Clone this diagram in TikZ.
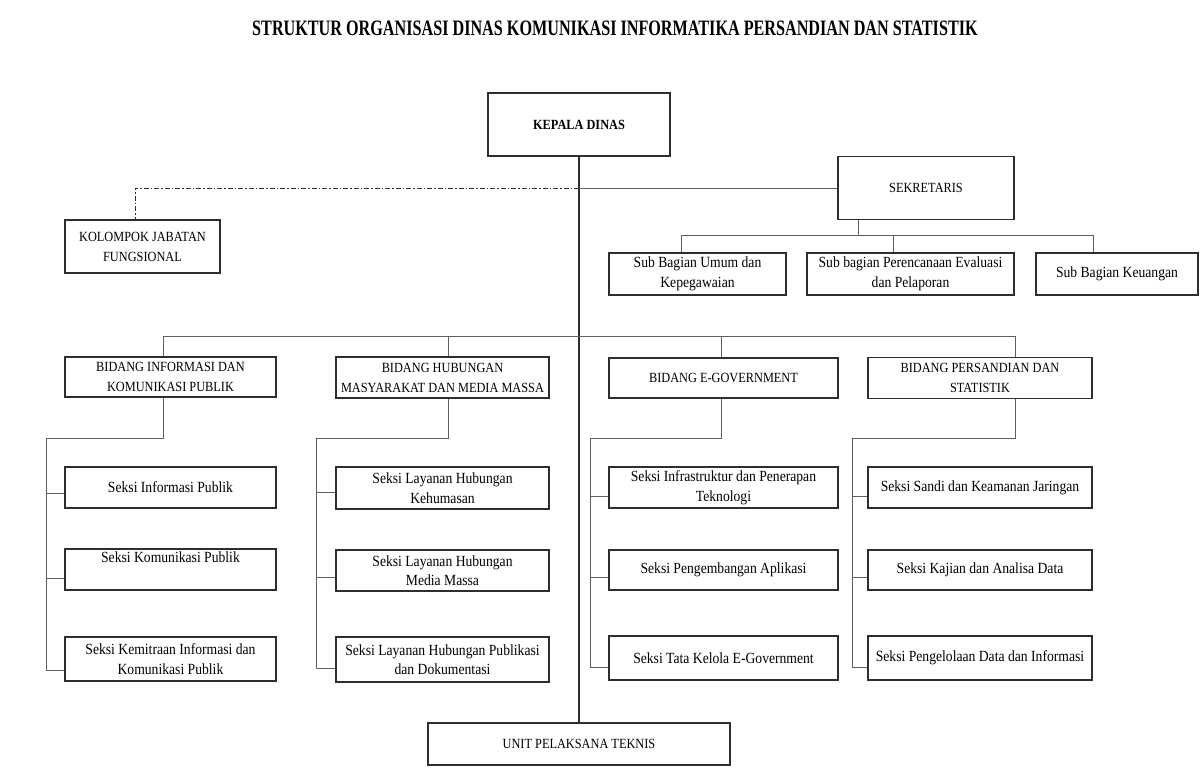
\documentclass[tikz,border=0pt]{standalone}
\usepackage{fontspec}
\setmainfont{Liberation Serif}[FakeStretch=0.88]
\newfontfamily\titlefont{Liberation Serif}[FakeStretch=0.735]
\definecolor{boxgray}{HTML}{2E2E2E}
\definecolor{linegray}{HTML}{606060}
\tikzset{dim/.style 2 args={minimum width=#1, minimum height=#2}}

\begin{document}
\begin{tikzpicture}[
            x = 1pt, y = -1pt, % pixel grid of the scan
            line join = miter,
            semithick
        ]

        \tikzstyle{unit}=[
            draw = boxgray,
            line width = 1.4pt,
            fill = white,
            inner sep = 0pt,
            align = center,
            font = \fontsize{15.5}{19.5}\selectfont
        ]
        \tikzstyle{caps}=[unit, font = \fontsize{14}{20}\selectfont]
        \tikzstyle{conn}=[draw = linegray, line width = 0.9pt]

        \useasboundingbox (0,0) rectangle (1201,776);

        \node (title) at (615,28) {\titlefont\bfseries\fontsize{22}{26}\selectfont STRUKTUR ORGANISASI DINAS KOMUNIKASI INFORMATIKA PERSANDIAN DAN STATISTIK};

        % top level
        \node[unit, dim={182pt}{63pt}, line width = 2pt, font = \bfseries\fontsize{14}{17}\selectfont] (kepala) at (579,124.5) {KEPALA DINAS};
        \node[caps, dim={176pt}{63pt}] (sekretaris) at (926,188) {SEKRETARIS};
        \node[caps, dim={155pt}{53pt}] (fungsional) at (142.5,246.5) {KOLOMPOK JABATAN\\FUNGSIONAL};
        \node[caps, dim={302pt}{42pt}] (upt) at (579,744) {UNIT PELAKSANA TEKNIS};

        % sub bagian
        \node[unit, dim={177pt}{42pt}] (umum) at (697.5,274) {Sub Bagian Umum dan\\Kepegawaian};
        \node[unit, dim={207pt}{42pt}] (rencana) at (910.5,274) {Sub bagian Perencanaan Evaluasi\\dan Pelaporan};
        \node[unit, dim={162pt}{42pt}] (keuangan) at (1117,274) {Sub Bagian Keuangan};

        % bidang
        \node[caps, dim={211pt}{40pt}] (bidinfo) at (170.5,377) {BIDANG INFORMASI DAN\\KOMUNIKASI PUBLIK};
        \node[caps, dim={213pt}{41pt}] (bidhumas) at (442.5,377.5) {BIDANG HUBUNGAN\\MASYARAKAT DAN MEDIA MASSA};
        \node[caps, dim={229pt}{40pt}] (bidegov) at (723.5,378) {BIDANG E-GOVERNMENT};
        \node[caps, dim={224pt}{41pt}] (bidsandi) at (980,378) {BIDANG PERSANDIAN DAN\\STATISTIK};

        % seksi
        \node[unit, dim={211pt}{41pt}] (s11) at (170.5,487.5) {Seksi Informasi Publik};
        \node[unit, dim={211pt}{41pt}] (s12) at (170.5,569.5) {Seksi Komunikasi Publik\\\strut};
        \node[unit, dim={211pt}{44pt}] (s13) at (170.5,659) {Seksi Kemitraan Informasi dan\\Komunikasi Publik};
        \node[unit, dim={213pt}{42pt}] (s21) at (442.5,488) {Seksi Layanan Hubungan\\Kehumasan};
        \node[unit, dim={213pt}{41pt}] (s22) at (442.5,570.5) {Seksi Layanan Hubungan\\Media Massa};
        \node[unit, dim={213pt}{45pt}] (s23) at (442.5,659.5) {Seksi Layanan Hubungan Publikasi\\dan Dokumentasi};
        \node[unit, dim={229pt}{41pt}] (s31) at (723.5,487.5) {Seksi Infrastruktur dan Penerapan\\Teknologi};
        \node[unit, dim={229pt}{40pt}] (s32) at (723.5,570) {Seksi Pengembangan Aplikasi};
        \node[unit, dim={229pt}{44pt}] (s33) at (723.5,658) {Seksi Tata Kelola E-Government};
        \node[unit, dim={224pt}{41pt}] (s41) at (980,487.5) {Seksi Sandi dan Keamanan Jaringan};
        \node[unit, dim={224pt}{40pt}] (s42) at (980,570) {Seksi Kajian dan Analisa Data};
        \node[unit, dim={224pt}{44pt}] (s43) at (980,658) {Seksi Pengelolaan Data dan Informasi};

        % junction points
        \coordinate (jct) at (579,188);
        \coordinate (fung) at (135,188);
        \coordinate (g0) at (858,235);
        \coordinate (g1) at (681,235);
        \coordinate (g2) at (893,235);
        \coordinate (g3) at (1093,235);
        \coordinate (b1) at (163,336);
        \coordinate (b2) at (448,336);
        \coordinate (b3) at (721,336);
        \coordinate (b4) at (1015,336);
        \coordinate (k1) at (46,438);
        \coordinate (k2) at (316,438);
        \coordinate (k3) at (590,438);
        \coordinate (k4) at (852,438);

        \draw[draw = boxgray, line width = 2pt] (kepala) -- (upt);
        \draw[conn] (jct) -- (sekretaris);
        \draw[draw = boxgray, line width = 1pt, dash pattern = on 5pt off 2pt on 1.5pt off 2pt] (jct) -- (fung) -- (fungsional.north -| fung);

        \draw[conn] (sekretaris.south -| g0) -- (g0);
        \draw[conn] (g1) -- (g3);
        \draw[conn] (g1) -- (umum.north -| g1);
        \draw[conn] (g2) -- (rencana.north -| g2);
        \draw[conn] (g3) -- (keuangan.north -| g3);

        \draw[conn] (b1) -- (b4);
        \draw[conn] (b1) -- (bidinfo.north -| b1);
        \draw[conn] (b2) -- (bidhumas.north -| b2);
        \draw[conn] (b3) -- (bidegov.north -| b3);
        \draw[conn] (b4) -- (bidsandi.north -| b4);

        \draw[conn] (bidinfo.south -| b1) |- (k1);
        \draw[conn] ([yshift=-5.5pt]s11.west) -| (k1);
        \draw[conn] ([yshift=-8.5pt]s12.west) -| (k1);
        \draw[conn] ([yshift=-11pt]s13.west) -| (k1);

        \draw[conn] (bidhumas.south -| b2) |- (k2);
        \draw[conn] ([yshift=-4pt]s21.west) -| (k2);
        \draw[conn] ([yshift=-6.5pt]s22.west) -| (k2);
        \draw[conn] ([yshift=-8.5pt]s23.west) -| (k2);

        \draw[conn] (bidegov.south -| b3) |- (k3);
        \draw[conn] ([yshift=-8.5pt]s31.west) -| (k3);
        \draw[conn] ([yshift=-7pt]s32.west) -| (k3);
        \draw[conn] ([yshift=-9pt]s33.west) -| (k3);

        \draw[conn] (bidsandi.south -| b4) |- (k4);
        \draw[conn] ([yshift=-8.5pt]s41.west) -| (k4);
        \draw[conn] ([yshift=-7pt]s42.west) -| (k4);
        \draw[conn] ([yshift=-9pt]s43.west) -| (k4);
    \end{tikzpicture}
\end{document}
